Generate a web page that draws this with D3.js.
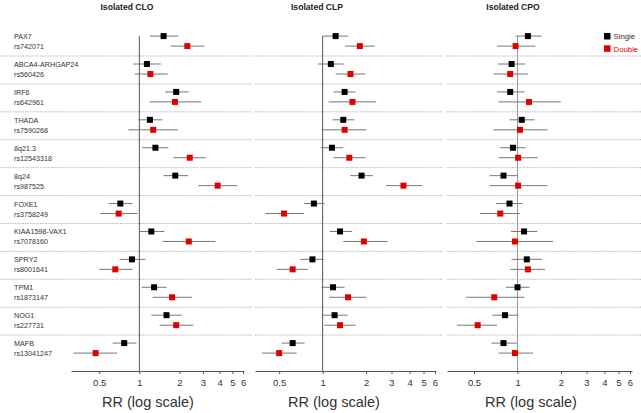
<!DOCTYPE html>
<html>
<head>
<meta charset="utf-8">
<script src="https://cdn.jsdelivr.net/npm/d3@7"></script>
<style>
  body { margin: 0; background: #fff; }
  svg { font-family: "Liberation Sans", Arial, sans-serif; }
</style>
</head>
<body>
<div id="chart"></div>
<script>
// genes and their snps, top to bottom
var genes = ["PAX7", "ABCA4-ARHGAP24", "IRF6", "THADA", "8q21.3", "8q24", "FOXE1",
  "KIAA1598-VAX1", "SPRY2", "TPM1", "NOG1", "MAFB"];
var snps = ["rs742071", "rs560426", "rs642961", "rs7590268", "rs12543318", "rs987525",
  "rs3758249", "rs7078160", "rs8001641", "rs1873147", "rs227731", "rs13041247"];

var panelTitles = ["Isolated CLO", "Isolated CLP", "Isolated CPO"];
var seriesNames = ["Single", "Double"];
var tickValues = [0.5, 1, 2, 3, 4, 5, 6];

// [RR, lower CI, upper CI] per gene
var cloSingle = [[1.52, 1.20, 1.96], [1.14, 0.90, 1.45], [1.89, 1.56, 2.35], [1.20, 0.98, 1.49],
  [1.32, 1.05, 1.65], [1.86, 1.52, 2.32], [0.72, 0.59, 0.89], [1.23, 1.00, 1.54],
  [0.88, 0.71, 1.11], [1.29, 1.04, 1.60], [1.60, 1.23, 2.08], [0.77, 0.63, 0.95]];
var cloDouble = [[2.29, 1.72, 3.08], [1.21, 0.92, 1.63], [1.85, 1.19, 2.92], [1.27, 0.83, 1.95],
  [2.39, 1.80, 3.16], [3.87, 2.76, 5.42], [0.70, 0.51, 0.97], [2.35, 1.50, 3.72],
  [0.66, 0.50, 0.89], [1.76, 1.26, 2.49], [1.89, 1.42, 2.55], [0.47, 0.32, 0.68]];
var clpSingle = [[1.23, 1.00, 1.50], [1.14, 0.93, 1.40], [1.42, 1.19, 1.69], [1.39, 1.17, 1.66],
  [1.16, 0.97, 1.39], [1.86, 1.55, 2.23], [0.87, 0.74, 1.03], [1.32, 1.12, 1.60],
  [0.85, 0.70, 1.02], [1.18, 0.98, 1.42], [1.21, 1.00, 1.49], [0.62, 0.52, 0.75]];
var clpDouble = [[1.81, 1.43, 2.30], [1.56, 1.23, 1.98], [1.61, 1.10, 2.34], [1.42, 1.00, 2.01],
  [1.53, 1.19, 1.99], [3.63, 2.75, 4.89], [0.54, 0.40, 0.74], [1.93, 1.39, 2.81],
  [0.62, 0.48, 0.79], [1.50, 1.11, 2.01], [1.32, 1.03, 1.69], [0.50, 0.38, 0.66]];
var cpoSingle = [[1.18, 0.97, 1.47], [0.91, 0.73, 1.13], [0.89, 0.72, 1.12], [1.07, 0.88, 1.31],
  [0.93, 0.76, 1.14], [0.80, 0.64, 1.00], [0.88, 0.71, 1.08], [1.11, 0.90, 1.37],
  [1.16, 0.91, 1.48], [1.00, 0.83, 1.21], [0.82, 0.67, 1.01], [0.80, 0.66, 0.99]];
var cpoDouble = [[0.97, 0.72, 1.33], [0.89, 0.68, 1.18], [1.20, 0.74, 1.99], [1.04, 0.68, 1.61],
  [1.01, 0.74, 1.38], [1.01, 0.64, 1.61], [0.76, 0.55, 1.04], [0.96, 0.52, 1.76],
  [1.18, 0.89, 1.55], [0.69, 0.44, 1.12], [0.53, 0.38, 0.72], [0.96, 0.74, 1.28]];

var panelData = [[cloSingle, cloDouble], [clpSingle, clpDouble], [cpoSingle, cpoDouble]];

// layout of each panel (pixel extents of the axis and of the dashed rules)
var layout = [
  { domain: [0.307, 6.1], range: [71, 244], rule: [0, 252], title: 127, label: 148, refColor: "#555" },
  { domain: [0.34, 6.1], range: [255, 436], rule: [255, 443], title: 317, label: 334, refColor: "#555" },
  { domain: [0.325, 6.2], range: [447, 632], rule: [447, 641], title: 513, label: 531, refColor: "#999" }
];

var width = 641, height = 413;
var axisY = 371;
var colors = { Single: "#000", Double: "#e00000" };

var svg = d3.select("#chart")
  .append("svg")
  .attr("width", width)
  .attr("height", height);

var y = d3.scaleBand()
  .domain(genes)
  .range([28.1, 363]);

// offset of each series inside a gene band
var sy = d3.scalePoint()
  .domain(seriesNames)
  .range([8, 18]);

// row labels
var labels = svg.append("g")
  .attr("font-size", 7.2)
  .attr("fill", "#333");
labels.selectAll("text.gene")
  .data(genes)
  .join("text")
  .attr("class", "gene")
  .attr("x", 14)
  .attr("y", d => y(d) + sy("Single") + 3)
  .text(d => d);
labels.selectAll("text.snp")
  .data(snps)
  .join("text")
  .attr("class", "snp")
  .attr("x", 14)
  .attr("y", (d, i) => y(genes[i]) + sy("Double") + 3)
  .text(d => d);

layout.forEach(function (p, pi) {
  var x = d3.scaleLog()
    .domain(p.domain)
    .range(p.range);

  var g = svg.append("g");

  // dashed separators between genes
  g.selectAll("line.sep")
    .data(genes.slice(0, -1))
    .join("line")
    .attr("class", "sep")
    .attr("x1", p.rule[0])
    .attr("x2", p.rule[1])
    .attr("y1", d => y(d) + y.bandwidth())
    .attr("y2", d => y(d) + y.bandwidth())
    .attr("stroke", "#aaa")
    .attr("stroke-width", 0.8)
    .attr("stroke-dasharray", "1.5,1");

  // reference line at RR = 1
  g.append("line")
    .attr("x1", x(1))
    .attr("x2", x(1))
    .attr("y1", y(genes[0]) + sy("Single"))
    .attr("y2", axisY)
    .attr("stroke", p.refColor)
    .attr("stroke-width", 1);

  // x axis
  var axis = g.append("g")
    .attr("transform", "translate(0," + axisY + ")")
    .call(d3.axisBottom(x)
      .tickValues(tickValues)
      .tickFormat(d3.format("~g"))
      .tickSize(3)
      .tickSizeOuter(0));
  axis.select(".domain").attr("stroke", "#555");
  axis.selectAll(".tick line").attr("stroke", "#555");
  axis.selectAll(".tick text")
    .attr("fill", "#333")
    .attr("font-size", 9.5)
    .attr("dy", "0.95em")
    .attr("font-family", "Liberation Sans, Arial, sans-serif");

  g.append("text")
    .attr("x", p.label)
    .attr("y", 407)
    .attr("text-anchor", "middle")
    .attr("font-size", 14.5)
    .attr("fill", "#333")
    .text("RR (log scale)");

  g.append("text")
    .attr("x", p.title)
    .attr("y", 9.5)
    .attr("text-anchor", "middle")
    .attr("font-size", 8.6)
    .attr("font-weight", "bold")
    .attr("fill", "#222")
    .text(panelTitles[pi]);

  // error bars and points for each series
  seriesNames.forEach(function (s, si) {
    var data = panelData[pi][si];
    g.selectAll("line.ci" + s)
      .data(data)
      .join("line")
      .attr("class", "ci" + s)
      .attr("x1", d => x(d[1]))
      .attr("x2", d => x(d[2]))
      .attr("y1", (d, i) => y(genes[i]) + sy(s))
      .attr("y2", (d, i) => y(genes[i]) + sy(s))
      .attr("stroke", "#777")
      .attr("stroke-width", 1);
    g.selectAll("rect.pt" + s)
      .data(data)
      .join("rect")
      .attr("class", "pt" + s)
      .attr("x", d => x(d[0]) - 3)
      .attr("y", (d, i) => y(genes[i]) + sy(s) - 3)
      .attr("width", 6)
      .attr("height", 6)
      .attr("fill", colors[s]);
  });
});

// legend
var legend = svg.append("g")
  .attr("transform", "translate(604,33)");
legend.selectAll("rect")
  .data(seriesNames)
  .join("rect")
  .attr("x", 0)
  .attr("y", (d, i) => i * 12.3)
  .attr("width", 6.5)
  .attr("height", 6.5)
  .attr("fill", d => colors[d]);
legend.selectAll("text")
  .data(seriesNames)
  .join("text")
  .attr("x", 9.5)
  .attr("y", (d, i) => i * 12.3 + 6.3)
  .attr("font-size", 7.8)
  .attr("fill", d => d === "Single" ? "#333" : colors[d])
  .text(d => d);
</script>
</body>
</html>
